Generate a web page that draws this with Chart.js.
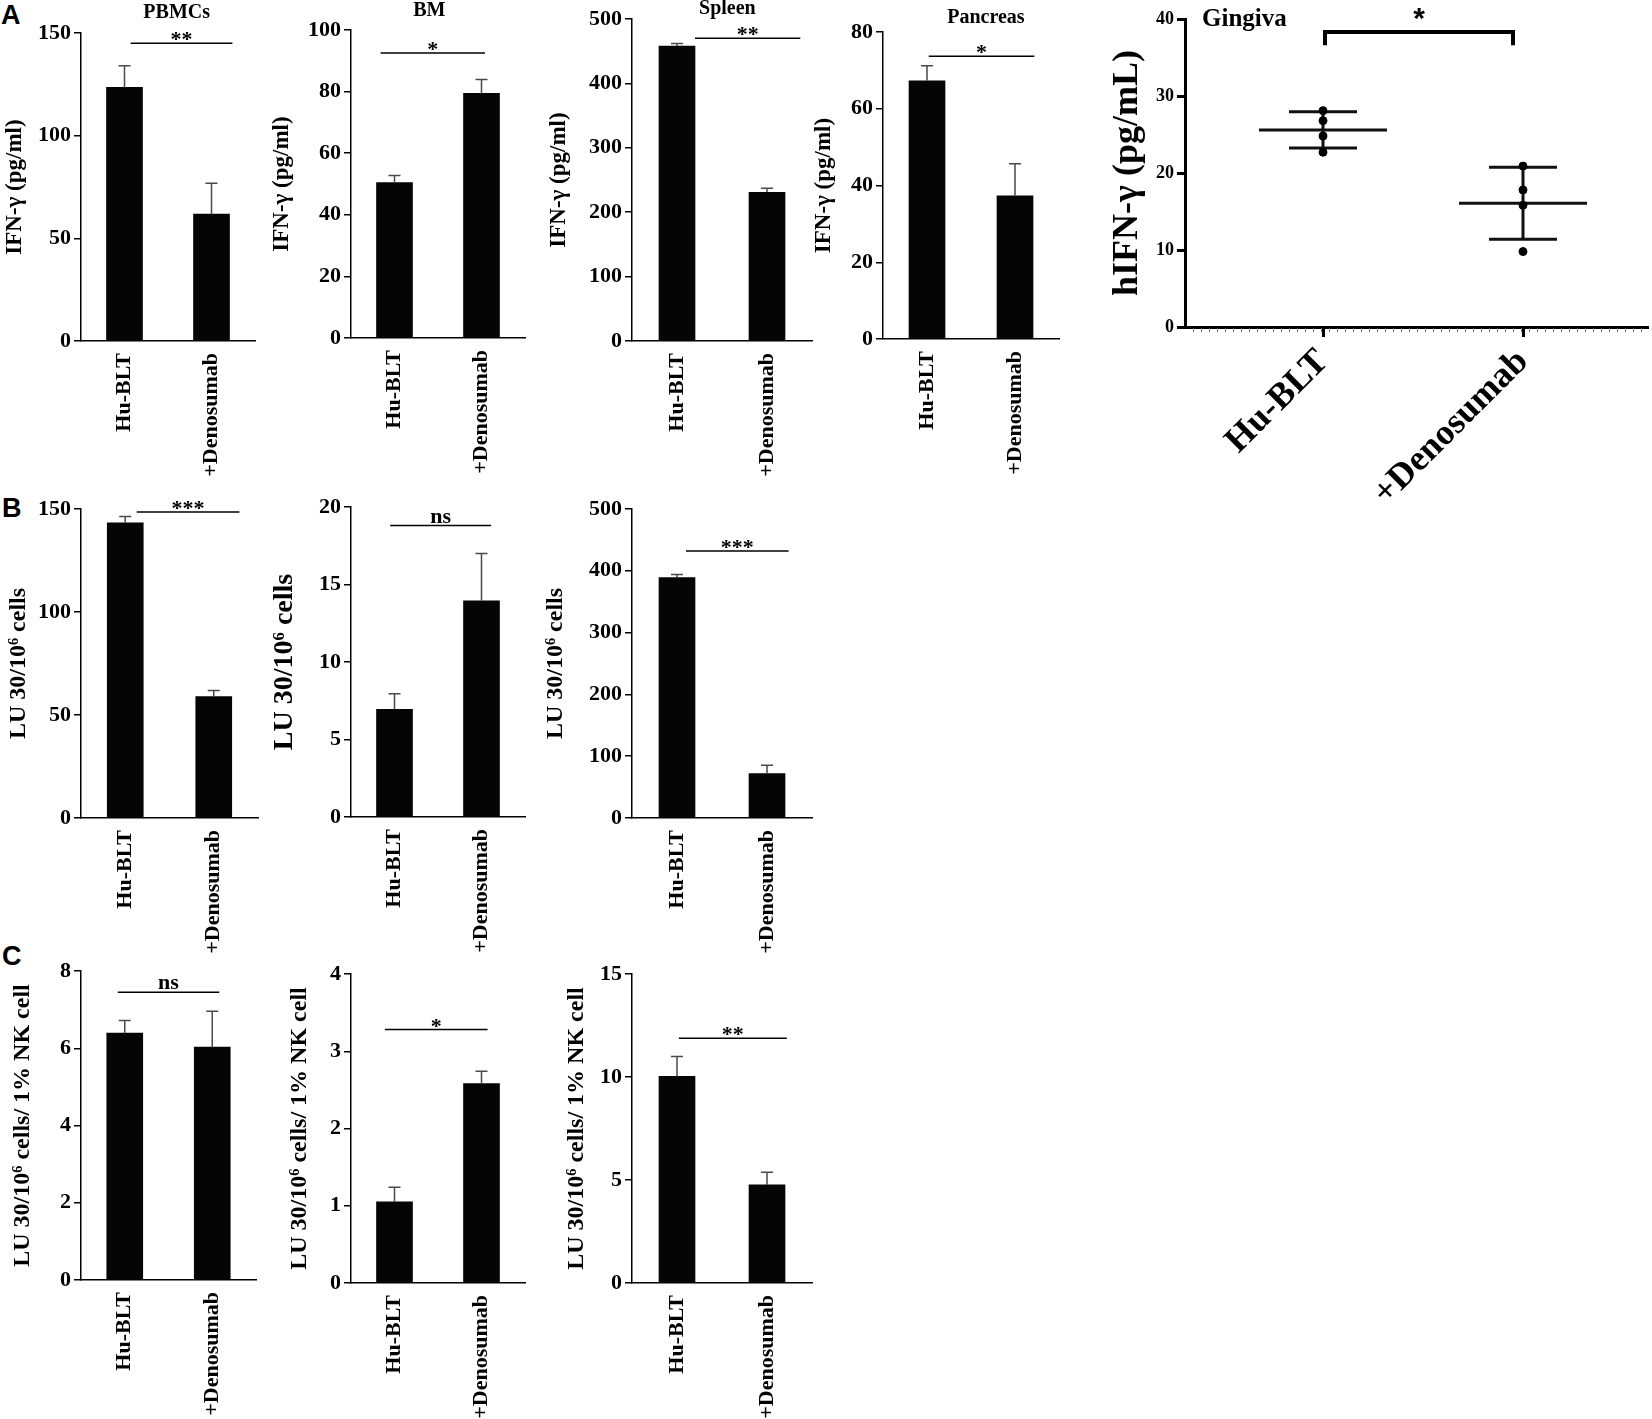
<!DOCTYPE html>
<html>
<head>
<meta charset="utf-8">
<script src="https://cdn.jsdelivr.net/npm/chart.js@4.4.1/dist/chart.umd.min.js"></script>
<style>
body { margin: 0; background: #fff; }
#fig { position: relative; width: 1652px; height: 1419px; overflow: hidden; background: #fff; }
#fig canvas { position: absolute; }
.tag { position: absolute; font: bold 27px "Liberation Sans", Arial, sans-serif; line-height: 27px; color: #000; }
</style>
</head>
<body>
<div id="fig">
  <div class="tag" style="left:1px;top:2px">A</div>
  <div class="tag" style="left:2px;top:495px">B</div>
  <div class="tag" style="left:2px;top:943px">C</div>
</div>
<script>
// data
var groups = ['Hu-BLT', '+Denosumab'];

// A: IFN-gamma (pg/ml), mean and upper error
var pbmcMean = [123.5, 61.8];
var pbmcErr = [10.6, 15];
var bmMean = [50.5, 79.4];
var bmErr = [2.3, 4.5];
var spleenMean = [458, 231];
var spleenErr = [4, 6];
var pancreasMean = [67.3, 37.3];
var pancreasErr = [3.9, 8.4];

// gingiva, single mice
var gingivaHu = [28.1, 26.8, 24.8, 22.7];
var gingivaDeno = [20.9, 17.8, 15.8, 9.8];

// B: LU 30/10^6 cells
var b1Mean = [143.3, 58.9];
var b1Err = [3.1, 3.0];
var b2Mean = [6.95, 13.95];
var b2Err = [1.0, 3.05];
var b3Mean = [389, 71.7];
var b3Err = [5, 13.6];

// C: LU 30/10^6 cells / 1% NK cell
var c1Mean = [6.39, 6.03];
var c1Err = [0.33, 0.93];
var c2Mean = [1.05, 2.58];
var c2Err = [0.19, 0.16];
var c3Mean = [10.03, 4.76];
var c3Err = [0.97, 0.62];

// tick labels
var ticks150 = [0, 50, 100, 150];
var ticks100 = [0, 20, 40, 60, 80, 100];
var ticks500 = [0, 100, 200, 300, 400, 500];
var ticks80 = [0, 20, 40, 60, 80];
var ticks40 = [0, 10, 20, 30, 40];
var ticks20 = [0, 5, 10, 15, 20];
var ticks8 = [0, 2, 4, 6, 8];
var ticks4 = [0, 1, 2, 3, 4];
var ticks15 = [0, 5, 10, 15];

// significance marks
var sigA = ['**', '*', '**', '*'];
var sigB = ['***', 'ns', '***'];
var sigC = ['ns', '*', '**'];
var sigGingiva = '*';

var SERIF = '"Liberation Serif", "Times New Roman", serif';
var fig = document.getElementById('fig');

var decor = {
  id: 'decor',
  afterDatasetsDraw: function (chart, args, o) {
    var ctx = chart.ctx, xs = chart.scales.x, ys = chart.scales.y;
    var meta = chart.getDatasetMeta(0);
    var vals = chart.data.datasets[0].data;
    ctx.save();
    // error bars (upper only)
    ctx.strokeStyle = '#4a4a4a';
    ctx.lineWidth = 1.5;
    meta.data.forEach(function (bar, i) {
      var yt = ys.getPixelForValue(vals[i] + o.err[i]);
      ctx.beginPath();
      ctx.moveTo(bar.x, bar.y);
      ctx.lineTo(bar.x, yt);
      ctx.moveTo(bar.x - 6, yt);
      ctx.lineTo(bar.x + 6, yt);
      ctx.stroke();
    });
    // significance line
    var sy = ys.getPixelForValue(o.level);
    var x0 = xs.getPixelForValue(o.span[0]), x1 = xs.getPixelForValue(o.span[1]);
    ctx.strokeStyle = '#000';
    ctx.lineWidth = 1.5;
    ctx.beginPath();
    ctx.moveTo(x0, sy);
    ctx.lineTo(x1, sy);
    ctx.stroke();
    ctx.fillStyle = '#000';
    ctx.textAlign = 'center';
    ctx.textBaseline = 'alphabetic';
    ctx.font = 'bold 22px ' + SERIF;
    ctx.fillText(o.sig, (x0 + x1) / 2, o.sig === 'ns' ? sy - 3 : sy + 3);
    if (o.title) {
      ctx.font = 'bold 20px ' + SERIF;
      ctx.textBaseline = 'middle';
      ctx.fillText(o.title, xs.getPixelForValue(o.titleX), chart.chartArea.top + o.titleDy);
    }
    ctx.restore();
  }
};

function makeBar(p) {
  var PT = p.pt, XH = 140, PR = 4;
  var w = p.yw + (p.r - p.l) + PR, h = PT + (p.b - p.t) + XH;
  var cv = document.createElement('canvas');
  cv.width = w; cv.height = h;
  cv.style.left = (p.l - p.yw) + 'px';
  cv.style.top = (p.t - PT) + 'px';
  cv.style.width = w + 'px';
  cv.style.height = h + 'px';
  fig.appendChild(cv);
  new Chart(cv, {
    type: 'bar',
    data: {
      labels: groups,
      datasets: [{ data: p.mean, backgroundColor: '#050505', barThickness: 36 }]
    },
    options: {
      responsive: false,
      animation: false,
      devicePixelRatio: 1,
      layout: { padding: { top: PT, right: PR, left: 0, bottom: 0 } },
      plugins: {
        legend: { display: false },
        tooltip: { enabled: false },
        decor: { err: p.err, level: p.level, span: p.span, sig: p.sig, title: p.title, titleX: p.titleX, titleDy: p.titleDy }
      },
      scales: {
        x: {
          grid: { display: false, drawTicks: false },
          border: { color: '#000', width: 1.5 },
          ticks: { color: '#000', font: { family: SERIF, weight: 'bold', size: 22 }, minRotation: 90, maxRotation: 90, padding: 12 },
          afterFit: function (s) { s.height = XH; }
        },
        y: {
          min: 0,
          max: p.ticks[p.ticks.length - 1],
          afterBuildTicks: function (s) { s.ticks = p.ticks.map(function (v) { return { value: v }; }); },
          grid: { drawOnChartArea: false, color: '#000', lineWidth: 1.5, tickLength: 7 },
          border: { color: '#000', width: 1.5 },
          ticks: { color: '#000', font: { family: SERIF, weight: 'bold', size: 22 }, padding: 3 },
          title: { display: true, text: p.ytitle, color: '#000', font: { family: SERIF, weight: 'bold', size: p.tf }, padding: 0 },
          afterFit: function (s) { s.width = p.yw; }
        }
      }
    },
    plugins: [decor]
  });
}

var ifn = 'IFN-γ (pg/ml)';
var lu = 'LU 30/10⁶ cells';
var luNk = 'LU 30/10⁶ cells/ 1% NK cell';

makeBar({ mean: pbmcMean, err: pbmcErr, ticks: ticks150, ytitle: ifn, tf: 23, sig: sigA[0], level: 145, span: [0.07, 1.24], title: 'PBMCs', titleX: 0.6, titleDy: -20, l: 81, t: 33, r: 255, b: 341, yw: 80, pt: 33 });
makeBar({ mean: bmMean, err: bmErr, ticks: ticks100, ytitle: ifn, tf: 23, sig: sigA[1], level: 92.5, span: [-0.16, 1.04], title: 'BM', titleX: 0.4, titleDy: -19, l: 351, t: 30, r: 525, b: 338, yw: 83, pt: 30 });
makeBar({ mean: spleenMean, err: spleenErr, ticks: ticks500, ytitle: ifn, tf: 23, sig: sigA[2], level: 470, span: [0.2, 1.37], title: 'Spleen', titleX: 0.56, titleDy: -10, l: 632, t: 19, r: 812, b: 341, yw: 87, pt: 19 });
makeBar({ mean: pancreasMean, err: pancreasErr, ticks: ticks80, ytitle: ifn, tf: 23, sig: sigA[3], level: 73.7, span: [0.02, 1.22], title: 'Pancreas', titleX: 0.67, titleDy: -14, l: 883, t: 32, r: 1059, b: 339, yw: 73, pt: 32 });

makeBar({ mean: b1Mean, err: b1Err, ticks: ticks150, ytitle: lu, tf: 24, sig: sigB[0], level: 148.5, span: [0.13, 1.29], l: 81, t: 509, r: 258, b: 818, yw: 77, pt: 40 });
makeBar({ mean: b2Mean, err: b2Err, ticks: ticks20, ytitle: lu, tf: 28, sig: sigB[1], level: 18.8, span: [-0.05, 1.11], l: 351, t: 507, r: 525, b: 817, yw: 83, pt: 40 });
makeBar({ mean: b3Mean, err: b3Err, ticks: ticks500, ytitle: lu, tf: 24, sig: sigB[2], level: 432, span: [0.1, 1.24], l: 632, t: 509, r: 812, b: 818, yw: 91, pt: 40 });

makeBar({ mean: c1Mean, err: c1Err, ticks: ticks8, ytitle: luNk, tf: 24, sig: sigC[0], level: 7.45, span: [-0.08, 1.08], l: 81, t: 971, r: 256, b: 1280, yw: 73, pt: 40 });
makeBar({ mean: c2Mean, err: c2Err, ticks: ticks4, ytitle: luNk, tf: 24, sig: sigC[1], level: 3.28, span: [-0.11, 1.07], l: 351, t: 974, r: 525, b: 1283, yw: 66, pt: 40 });
makeBar({ mean: c3Mean, err: c3Err, ticks: ticks15, ytitle: luNk, tf: 24, sig: sigC[2], level: 11.88, span: [0.02, 1.22], l: 632, t: 974, r: 812, b: 1283, yw: 70, pt: 40 });

// gingiva scatter with mean +/- SD
function stats(a) {
  var m = a.reduce(function (s, v) { return s + v; }, 0) / a.length;
  var sd = Math.sqrt(a.reduce(function (s, v) { return s + (v - m) * (v - m); }, 0) / (a.length - 1));
  return { m: m, sd: sd };
}

var gingivaDecor = {
  id: 'gdecor',
  beforeDatasetsDraw: function (chart) {
    var ctx = chart.ctx, xs = chart.scales.x, ys = chart.scales.y;
    ctx.save();
    ctx.strokeStyle = '#111';
    ctx.lineWidth = 3;
    [gingivaHu, gingivaDeno].forEach(function (arr, i) {
      var st = stats(arr);
      var cx = xs.getPixelForValue(i);
      var yM = ys.getPixelForValue(st.m), yU = ys.getPixelForValue(st.m + st.sd), yL = ys.getPixelForValue(st.m - st.sd);
      ctx.beginPath();
      ctx.moveTo(xs.getPixelForValue(i - 0.32), yM); ctx.lineTo(xs.getPixelForValue(i + 0.32), yM);
      ctx.moveTo(xs.getPixelForValue(i - 0.17), yU); ctx.lineTo(xs.getPixelForValue(i + 0.17), yU);
      ctx.moveTo(xs.getPixelForValue(i - 0.17), yL); ctx.lineTo(xs.getPixelForValue(i + 0.17), yL);
      ctx.moveTo(cx, yU); ctx.lineTo(cx, yL);
      ctx.stroke();
    });
    ctx.restore();
  },
  afterDraw: function (chart) {
    var ctx = chart.ctx, xs = chart.scales.x, ys = chart.scales.y, ca = chart.chartArea;
    ctx.save();
    // minor ticks along x axis
    ctx.strokeStyle = '#777';
    ctx.lineWidth = 1;
    ctx.beginPath();
    for (var v = xs.min + 0.04; v < xs.max; v += 0.04) {
      var px = Math.round(xs.getPixelForValue(v)) + 0.5;
      ctx.moveTo(px, ca.bottom + 1);
      ctx.lineTo(px, ca.bottom + 5);
    }
    ctx.stroke();
    // bracket
    var yb = ys.getPixelForValue(38.3), yd = ys.getPixelForValue(36.6);
    var xa = xs.getPixelForValue(0.01), xb = xs.getPixelForValue(0.95);
    ctx.strokeStyle = '#000';
    ctx.lineWidth = 4;
    ctx.beginPath();
    ctx.moveTo(xa, yd); ctx.lineTo(xa, yb); ctx.lineTo(xb, yb); ctx.lineTo(xb, yd);
    ctx.stroke();
    ctx.fillStyle = '#000';
    ctx.textAlign = 'center';
    ctx.textBaseline = 'alphabetic';
    ctx.font = 'bold 30px "Liberation Sans", Arial, sans-serif';
    ctx.fillText(sigGingiva, xs.getPixelForValue(0.48), ca.top + 9);
    ctx.textAlign = 'left';
    ctx.textBaseline = 'middle';
    ctx.font = 'bold 25px ' + SERIF;
    ctx.fillText('Gingiva', ca.left + 17, ca.top + 1);
    ctx.restore();
  }
};

(function () {
  var L = 1185, T = 19, R = 1650, B = 327, YW = 79, PT = 19, XH = 170, PR = 2;
  var w = YW + (R - L) + PR, h = PT + (B - T) + XH;
  var cv = document.createElement('canvas');
  cv.width = w; cv.height = h;
  cv.style.left = (L - YW) + 'px';
  cv.style.top = (T - PT) + 'px';
  cv.style.width = w + 'px';
  cv.style.height = h + 'px';
  fig.appendChild(cv);
  new Chart(cv, {
    type: 'scatter',
    data: {
      datasets: [
        { data: gingivaHu.map(function (v) { return { x: 0, y: v }; }), pointRadius: 4, backgroundColor: '#000', borderColor: '#000' },
        { data: gingivaDeno.map(function (v) { return { x: 1, y: v }; }), pointRadius: 4, backgroundColor: '#000', borderColor: '#000' }
      ]
    },
    options: {
      responsive: false,
      animation: false,
      devicePixelRatio: 1,
      layout: { padding: { top: PT, right: PR, left: 0, bottom: 0 } },
      plugins: { legend: { display: false }, tooltip: { enabled: false } },
      scales: {
        x: {
          type: 'linear',
          min: -0.69,
          max: 1.62,
          afterBuildTicks: function (s) { s.ticks = [{ value: 0 }, { value: 1 }]; },
          grid: { drawOnChartArea: false, color: '#000', lineWidth: 3, tickLength: 10 },
          border: { color: '#000', width: 3 },
          ticks: {
            autoSkip: false, minRotation: 45, maxRotation: 45, padding: 4, color: '#000',
            font: { family: SERIF, weight: 'bold', size: 36 },
            callback: function (v) { return groups[v]; }
          },
          afterFit: function (s) { s.height = XH; }
        },
        y: {
          min: 0,
          max: 40,
          afterBuildTicks: function (s) { s.ticks = ticks40.map(function (v) { return { value: v }; }); },
          grid: { drawOnChartArea: false, color: '#000', lineWidth: 3, tickLength: 8 },
          border: { color: '#000', width: 3 },
          ticks: { color: '#000', font: { family: SERIF, weight: 'bold', size: 18 }, padding: 3 },
          title: { display: true, text: 'hIFN-γ (pg/mL)', color: '#000', font: { family: SERIF, weight: 'bold', size: 36 }, padding: 0 },
          afterFit: function (s) { s.width = YW; }
        }
      }
    },
    plugins: [gingivaDecor]
  });
})();
</script>
</body>
</html>
